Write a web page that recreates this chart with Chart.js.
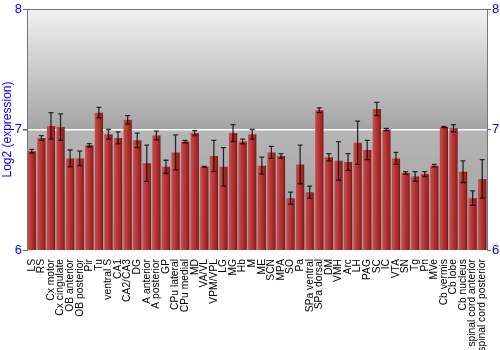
<!DOCTYPE html>
<html>
<head>
<meta charset="utf-8">
<script src="https://cdn.jsdelivr.net/npm/chart.js@4.4.1/dist/chart.umd.min.js"></script>
<style>
    html, body { margin: 0; padding: 0; background: #ffffff; }
    #wrap { width: 500px; height: 350px; }
</style>
</head>
<body>
<div id="wrap"><canvas id="chart"></canvas></div>
<script>
// Brain regions (x categories)
const regions = ['LS', 'RS', 'Cx motor', 'Cx cingulate', 'OB anterior', 'OB posterior', 'Pir', 'Tu',
    'ventral S', 'CA1', 'CA2/CA3', 'DG', 'A anterior', 'A posterior', 'GP', 'CPu lateral', 'CPu medial',
    'MD', 'VA/VL', 'VPM/VPL', 'LG', 'MG', 'Hb', 'M', 'ME', 'SCN', 'MPA', 'SO', 'Pa', 'SPa ventral',
    'SPa dorsal', 'DM', 'VMH', 'Arc', 'LH', 'PAG', 'SC', 'IC', 'VTA', 'SN', 'Tg', 'Pn', 'MVe',
    'Cb vermis', 'Cb lobe', 'Cb nucleus', 'spinal cord anterior', 'spinal cord posterior'];

// Mean log2 expression
const expression = [6.82, 6.93, 7.03, 7.02, 6.76, 6.76, 6.87, 7.14,
    6.96, 6.93, 7.08, 6.91, 6.72, 6.95, 6.69, 6.81, 6.90,
    6.97, 6.69, 6.78, 6.69, 6.97, 6.90, 6.96, 6.70, 6.81, 6.78, 6.43, 6.71, 6.48,
    7.16, 6.77, 6.74, 6.73, 6.89, 6.83, 7.17, 7.00, 6.76, 6.64, 6.61, 6.63, 6.70,
    7.02, 7.01, 6.65, 6.43, 6.59];

// Error (+/-)
const errors = [0.015, 0.02, 0.11, 0.11, 0.07, 0.06, 0.013, 0.044,
    0.04, 0.05, 0.035, 0.06, 0.15, 0.036, 0.055, 0.145, 0.01,
    0.02, 0.003, 0.13, 0.16, 0.07, 0.02, 0.04, 0.07, 0.05, 0.02, 0.05, 0.16, 0.05,
    0.02, 0.03, 0.16, 0.07, 0.18, 0.08, 0.055, 0.01, 0.05, 0.01, 0.04, 0.02, 0.01,
    0.005, 0.03, 0.09, 0.06, 0.16];

const yTicks = [6, 7, 8];

const BAR_PCT = 0.86;

// gradient for each bar, left light -> right dark
function barFill(ctx) {
    const chart = ctx.chart;
    const xs = chart.scales.x;
    if (!xs || !chart.chartArea) return '#b33030';
    const cx = xs.getPixelForValue(ctx.dataIndex);
    const w = (xs.width / regions.length) * BAR_PCT;
    const g = chart.ctx.createLinearGradient(cx - w / 2, 0, cx + w / 2, 0);
    g.addColorStop(0, '#c65050');
    g.addColorStop(0.45, '#b83434');
    g.addColorStop(0.85, '#9c2222');
    g.addColorStop(1, '#6a1010');
    return g;
}

// plot area background
const backgroundPlugin = {
    id: 'bgGradient',
    beforeDraw(chart) {
        const { ctx, chartArea: a, scales } = chart;
        const y7 = scales.y.getPixelForValue(7);
        ctx.save();
        let g = ctx.createLinearGradient(0, a.top, 0, y7);
        g.addColorStop(0, '#f1f1f1');
        g.addColorStop(1, '#a4a4a4');
        ctx.fillStyle = g;
        ctx.fillRect(a.left, a.top, a.right - a.left, y7 - a.top);
        g = ctx.createLinearGradient(0, y7, 0, a.bottom);
        g.addColorStop(0, '#b6b6b6');
        g.addColorStop(1, '#9c9c9c');
        ctx.fillStyle = g;
        ctx.fillRect(a.left, y7, a.right - a.left, a.bottom - y7);
        ctx.restore();
    }
};

// error bars
const errorBarPlugin = {
    id: 'errorBars',
    afterDatasetsDraw(chart) {
        const { ctx, scales } = chart;
        const meta = chart.getDatasetMeta(0);
        ctx.save();
        ctx.strokeStyle = 'rgba(0,0,0,0.78)';
        ctx.lineWidth = 1.3;
        meta.data.forEach((bar, i) => {
            const hi = scales.y.getPixelForValue(expression[i] + errors[i]);
            const lo = scales.y.getPixelForValue(expression[i] - errors[i]);
            const x = bar.x;
            ctx.beginPath();
            ctx.moveTo(x, hi);
            ctx.lineTo(x, lo);
            ctx.moveTo(x - 2.5, hi);
            ctx.lineTo(x + 2.5, hi);
            ctx.moveTo(x - 2.5, lo);
            ctx.lineTo(x + 2.5, lo);
            ctx.stroke();
        });
        ctx.restore();
    }
};

new Chart(document.getElementById('chart'), {
    type: 'bar',
    data: {
        labels: regions,
        datasets: [{
            data: expression,
            backgroundColor: barFill,
            borderWidth: 0,
            barPercentage: BAR_PCT,
            categoryPercentage: 1.0
        }]
    },
    options: {
        responsive: true,
        maintainAspectRatio: false,
        animation: false,
        layout: { padding: { top: 9, right: 0, left: 0, bottom: 0 } },
        plugins: {
            legend: { display: false },
            tooltip: { enabled: false }
        },
        scales: {
            x: {
                grid: { display: false },
                border: { display: false },
                ticks: {
                    color: '#000000',
                    font: { family: "'Liberation Sans', Arial, sans-serif", size: 10.3 },
                    minRotation: 90,
                    maxRotation: 90,
                    autoSkip: false,
                    padding: 1
                },
                afterFit(scale) { scale.height = 100; }
            },
            y: {
                min: 6,
                max: 8,
                afterBuildTicks(scale) { scale.ticks = yTicks.map(v => ({ value: v })); },
                grid: {
                    color: c => c.tick && c.tick.value === 7 ? '#ffffff' : (c.tick && c.tick.value === 8 ? '#777777' : 'rgba(0,0,0,0)'),
                    lineWidth: c => c.tick && c.tick.value === 7 ? 1.5 : 1,
                    drawTicks: true,
                    tickLength: 4,
                    tickColor: '#666666'
                },
                border: { display: true, color: '#777777' },
                ticks: {
                    color: '#0000ff',
                    font: { family: "'Liberation Sans', Arial, sans-serif", size: 13 },
                    padding: 1
                },
                title: {
                    display: true,
                    text: 'Log2 (expression)',
                    color: '#0000ff',
                    font: { family: "'Liberation Sans', Arial, sans-serif", size: 12 },
                    padding: { top: 0, bottom: 0 }
                },
                afterFit(scale) { scale.width = 27; }
            },
            y2: {
                position: 'right',
                display: true,
                min: 6,
                max: 8,
                afterBuildTicks(scale) { scale.ticks = yTicks.map(v => ({ value: v })); },
                grid: {
                    drawOnChartArea: false,
                    drawTicks: true,
                    tickLength: 4,
                    tickColor: '#666666'
                },
                border: { display: true, color: '#777777' },
                ticks: {
                    color: '#0000ff',
                    font: { family: "'Liberation Sans', Arial, sans-serif", size: 13 },
                    padding: 1
                },
                afterFit(scale) { scale.width = 13; }
            }
        }
    },
    plugins: [backgroundPlugin, errorBarPlugin]
});
</script>
</body>
</html>
